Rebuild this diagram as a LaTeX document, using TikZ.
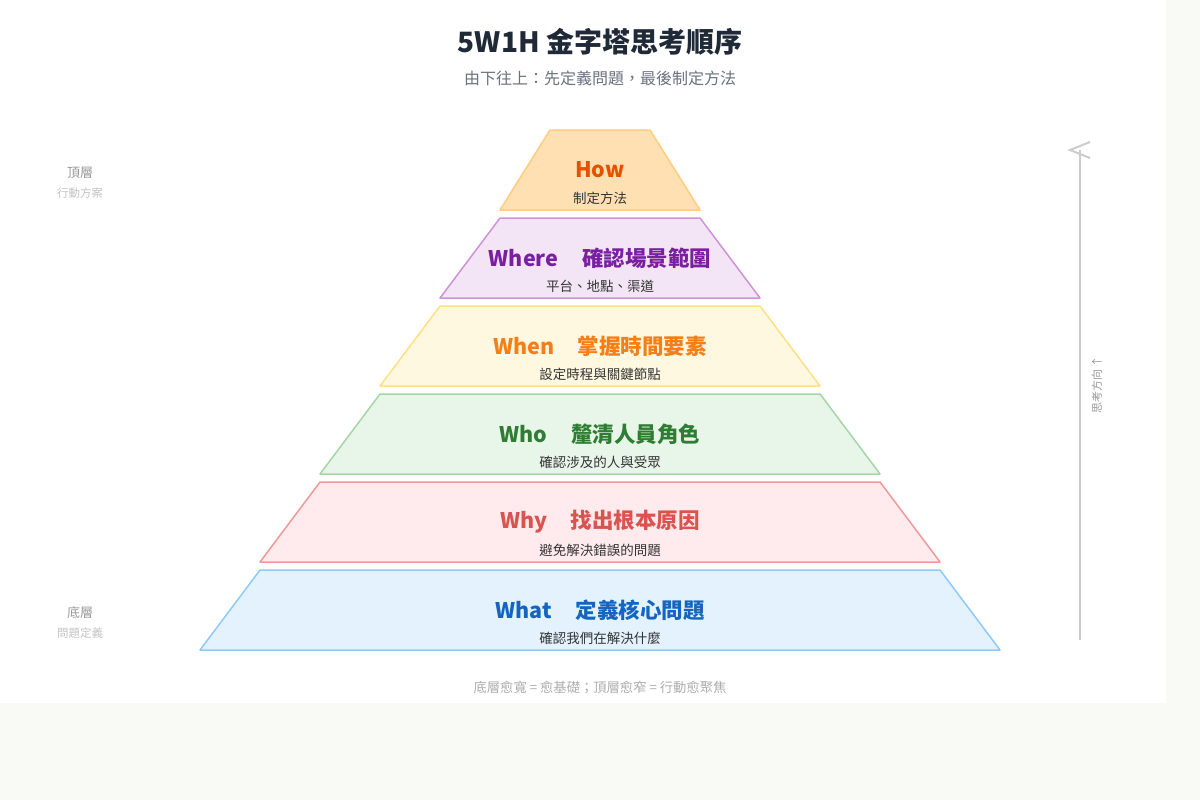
\documentclass[tikz,border=0pt]{standalone}
\usepackage{fontspec}
\setmainfont{Noto Sans CJK TC}
\usetikzlibrary{positioning}
\definecolor{pagebg}{HTML}{F9F9F5}
\definecolor{titleink}{HTML}{1F2937}
\definecolor{greyink}{HTML}{6B7280}
\definecolor{subink}{HTML}{333333}
\definecolor{sideink}{HTML}{999999}
\definecolor{paleink}{HTML}{C4C4C4}
\definecolor{flowline}{HTML}{CCCCCC}
% layer colours
\definecolor{howfill}{HTML}{FFE0B2}\definecolor{howline}{HTML}{FFCC80}\definecolor{howink}{HTML}{E65100}
\definecolor{wherefill}{HTML}{F3E5F5}\definecolor{whereline}{HTML}{CE93D8}\definecolor{whereink}{HTML}{7B1FA2}
\definecolor{whenfill}{HTML}{FFF8E1}\definecolor{whenline}{HTML}{FFE082}\definecolor{whenink}{HTML}{F57F17}
\definecolor{whofill}{HTML}{E8F5E9}\definecolor{wholine}{HTML}{A5D6A7}\definecolor{whoink}{HTML}{2E7D32}
\definecolor{whyfill}{HTML}{FFEBEE}\definecolor{whyline}{HTML}{EF9A9A}\definecolor{whyink}{HTML}{D9534F}
\definecolor{whatfill}{HTML}{E3F2FD}\definecolor{whatline}{HTML}{90CAF9}\definecolor{whatink}{HTML}{1565C0}

\begin{document}
\begin{tikzpicture}[x=1pt,y=-1pt,
  every node/.style={inner sep=0pt},
  heading/.style={font=\fontsize{28}{32}\selectfont\bfseries,text=titleink},
  subhead/.style={font=\fontsize{16}{19}\selectfont,text=greyink},
  layer/.style={line width=1.5pt,line join=round},
  layhead/.style={font=\fontsize{21.5}{25}\selectfont\bfseries},
  laysub/.style={font=\fontsize{13.5}{16}\selectfont,text=subink},
  side/.style={font=\fontsize{13}{16}\selectfont,text=sideink},
  sidesmall/.style={font=\fontsize{11.5}{14}\selectfont,text=paleink},
  flow/.style={flowline,line width=2pt},
  footnote/.style={font=\fontsize{13.3}{16}\selectfont,text=sideink!80}]

% page
\fill[pagebg] (0,0) rectangle (1200,800);
\fill[white] (0,0) rectangle (1166,703);

% title
\node[heading] (title) at (600,42) {5W1H 金字塔思考順序};
\node[subhead] (subtitle) at (600,78) {由下往上：先定義問題，最後制定方法};

% layers, bottom to top
\foreach \yt/\th/\bh/\fc/\lc/\tc/\head/\sub [count=\i] in {
  570/340/400/whatfill/whatline/whatink/{What\hspace{1.1em}定義核心問題}/確認我們在解決什麼,
  482/280/340/whyfill/whyline/whyink/{Why\hspace{1.1em}找出根本原因}/避免解決錯誤的問題,
  394/220/280/whofill/wholine/whoink/{Who\hspace{1.1em}釐清人員角色}/確認涉及的人與受眾,
  306/160/220/whenfill/whenline/whenink/{When\hspace{1.1em}掌握時間要素}/設定時程與關鍵節點,
  218/100/160/wherefill/whereline/whereink/{Where\hspace{1.1em}確認場景範圍}/平台、地點、渠道,
  130/50/100/howfill/howline/howink/How/制定方法}
{
  \draw[layer,fill=\fc,draw=\lc] (600-\th,\yt) -- (600+\th,\yt) -- (600+\bh,\yt+80)
    -- (600-\bh,\yt+80) -- cycle;
  \node[layhead,text=\tc] (head\i) at (600,\yt+40) {\head};
  \node[laysub] (sub\i) at (600,\yt+68) {\sub};
}

% side labels
\node[side] (toplab) at (80,173) {頂層};
\node[sidesmall] (topnote) at (80,193) {行動方案};
\node[side] (baselab) at (80,613) {底層};
\node[sidesmall] (basenote) at (80,633) {問題定義};

% direction of thought
\coordinate (flowlow) at (1080,640);
\coordinate (flowtop) at (1080,150);
\draw[flow] (flowlow) -- (flowtop);
\draw[flow] (1090,142) -- (1070,150) -- (1090,158);
\node[font=\fontsize{11}{13}\selectfont,text=sideink,rotate=90] (flowtxt) at (1097,385) {思考方向 ↑};

% footer
\node[footnote] (foot) at (600,688) {底層愈寬 = 愈基礎；頂層愈窄 = 行動愈聚焦};
\end{tikzpicture}
\end{document}
